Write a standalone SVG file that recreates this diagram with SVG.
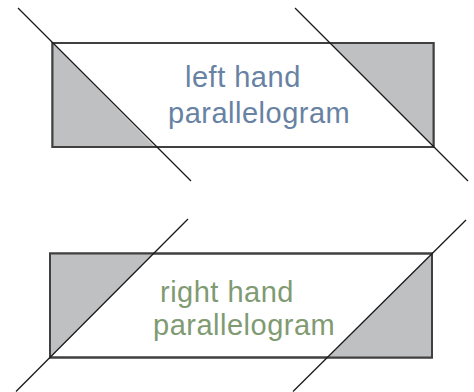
<svg xmlns="http://www.w3.org/2000/svg" width="474" height="392" viewBox="0 0 474 392">
<style>
.box{fill:#ffffff;stroke:#404040;stroke-width:2}
.tri{fill:#bfc0c2;stroke:none}
.cut{stroke:#1a1a1a;stroke-width:1.3;fill:none}
.lbl{font-family:"Liberation Sans",Arial,sans-serif;font-size:29px;letter-spacing:0.5px}
.blue{fill:#6882a3}
.green{fill:#809a72}
</style>
<rect width="474" height="392" fill="#ffffff"/>
<g id="left-hand">
<rect class="box" x="52.5" y="43" width="381" height="104"/>
<polygon class="tri" points="52.5,43 52.5,147 155,147"/>
<polygon class="tri" points="330,43 433.5,43 433.5,147"/>
<rect x="52.5" y="43" width="381" height="104" fill="none" stroke="#404040" stroke-width="2"/>
<text class="lbl blue" x="185" y="87">left hand</text>
<text class="lbl blue" x="168" y="123">parallelogram</text>
</g>
<g id="right-hand">
<rect class="box" x="50" y="253.5" width="382" height="104"/>
<polygon class="tri" points="50,253.5 153.5,253.5 50,357.5"/>
<polygon class="tri" points="432,253.5 432,357.5 328,357.5"/>
<rect x="50" y="253.5" width="382" height="104" fill="none" stroke="#404040" stroke-width="2"/>
<text class="lbl green" x="160" y="302">right hand</text>
<text class="lbl green" x="153" y="335">parallelogram</text>
</g>
<g id="connectors">
<line class="cut" x1="18" y1="8" x2="191" y2="181"/>
<line class="cut" x1="295" y1="8" x2="468" y2="181"/>
<line class="cut" x1="188" y1="219" x2="16" y2="391.5"/>
<line class="cut" x1="466" y1="220" x2="293" y2="391.5"/>
</g>
</svg>
